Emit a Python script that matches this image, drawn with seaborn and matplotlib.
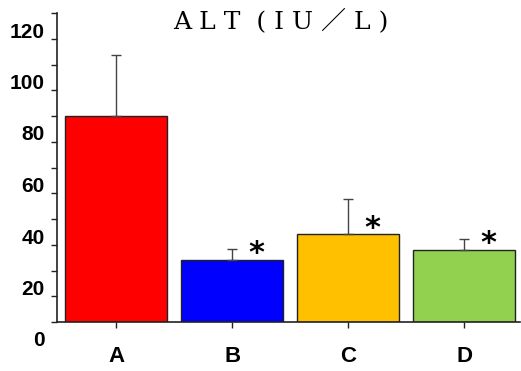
import matplotlib
matplotlib.use("Agg")
import matplotlib.pyplot as plt
import matplotlib.transforms as mtransforms
import seaborn as sns
import pandas as pd
import numpy as np

# Data
groups = ["A", "B", "C", "D"]
alt_mean = [80, 24, 34, 28]
alt_sd = [23.5, 4.3, 13.7, 4.3]
significant = [False, True, True, True]
bar_colors = ["#FF0000", "#0000FF", "#FFC000", "#92D050"]
y_ticks = [0, 20, 40, 60, 80, 100, 120]
title_text = "A L T  ( I U ／ L )"

sns.set_theme(style="white")
plt.rcParams["font.family"] = ["Liberation Sans", "DejaVu Sans"]

df = pd.DataFrame({"group": groups, "alt": alt_mean})

fig = plt.figure(figsize=(5.21, 3.71), dpi=100)
ax = fig.add_axes([57 / 521, 49 / 371, 463 / 521, 309 / 371])

sns.barplot(data=df, x="group", y="alt", hue="group", palette=bar_colors,
            order=groups, hue_order=groups, legend=False, errorbar=None,
            width=0.88, edgecolor="#222222", linewidth=1.0, saturation=1, ax=ax)

pos = np.arange(len(groups))
lower = np.zeros(len(groups))
ax.errorbar(pos, alt_mean, yerr=[lower, alt_sd], fmt="none", ecolor="#444444",
            elinewidth=1.0, capsize=3.5, capthick=1.0, zorder=1)

for x, m, s, sig in zip(pos, alt_mean, alt_sd, significant):
    if sig:
        ax.text(x + 0.21, m + 2.5, "*", ha="center", va="center",
                fontsize=22, fontweight="bold", color="black",
                family=["DejaVu Sans"])

ax.set_xlim(-0.51, 3.48)
ax.set_ylim(0, 120)
ax.set_yticks(np.arange(0, 121, 10))
ax.set_yticklabels([str(v) if v in y_ticks else "" for v in range(0, 121, 10)])
ax.set_xlabel("")
ax.set_ylabel("")

for side in ["top", "right"]:
    ax.spines[side].set_visible(False)
for side in ["left", "bottom"]:
    ax.spines[side].set_visible(True)
    ax.spines[side].set_color("#222222")
    ax.spines[side].set_linewidth(1.2)

ax.tick_params(axis="y", which="major", direction="out", length=4, width=1,
               color="#222222", pad=5, labelsize=15, left=True)
ax.tick_params(axis="x", which="major", direction="out", length=4, width=1,
               color="#222222", pad=13, labelsize=16, bottom=True)
for lab in ax.get_yticklabels() + ax.get_xticklabels():
    lab.set_fontweight("bold")
    lab.set_color("black")

# y labels sit a little below their tick marks
shift = mtransforms.ScaledTranslation(0, -0.17, fig.dpi_scale_trans)
for lab in ax.get_yticklabels():
    lab.set_transform(lab.get_transform() + shift)

fig.text(281 / 521, 1 - 21 / 371, title_text, ha="center", va="center",
         fontsize=18, family=["DejaVu Serif", "Noto Sans CJK JP"], color="black")

fig.savefig("out.png", dpi=100, facecolor="white")
